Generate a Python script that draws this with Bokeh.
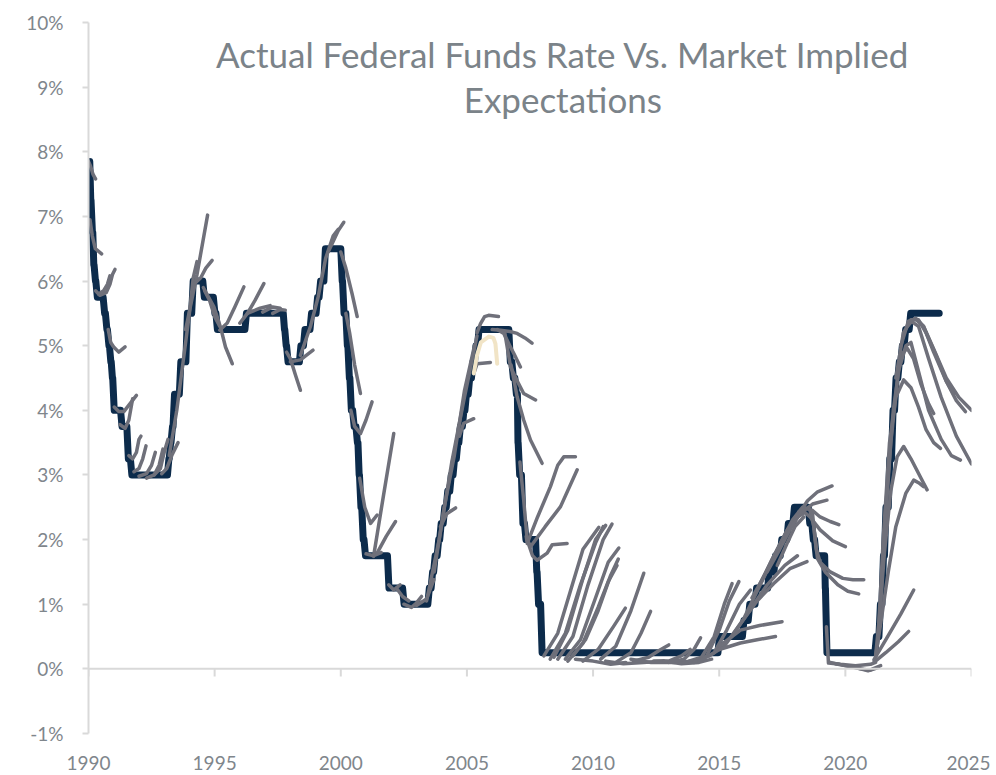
from bokeh.plotting import figure
from bokeh.models import ColumnDataSource, Label, Span, FixedTicker, Range1d
from bokeh.embed import file_html
from bokeh.resources import INLINE

# ---------------- data ----------------
year_ticks = [1990, 1995, 2000, 2005, 2010, 2015, 2020, 2025]
pct_ticks = [-1, 0, 1, 2, 3, 4, 5, 6, 7, 8, 9, 10]
title_lines = ["Actual Federal Funds Rate Vs. Market Implied", "Expectations"]

# actual federal funds rate: change dates (as plotted) and new level, %
fed_dates = [1990.00, 1990.05, 1990.10, 1990.17, 1990.22, 1990.29, 1990.58, 1990.67, 1990.75,
             1990.83, 1990.90, 1990.96, 1991.27, 1991.52, 1991.66, 1993.13, 1993.20, 1993.27,
             1993.35, 1993.60, 1993.86, 1994.09, 1994.53, 1994.95, 1995.05, 1996.20, 1997.72,
             1997.78, 1997.85, 1998.36, 1998.52, 1998.78, 1999.02, 1999.14, 1999.33, 2000.00,
             2000.07, 2000.20, 2000.28, 2000.36, 2000.47, 2000.60, 2000.68, 2000.74, 2000.83,
             2000.92, 2001.85, 2002.45, 2003.45, 2003.58, 2003.68, 2003.82, 2003.92, 2004.06,
             2004.18, 2004.32, 2004.45, 2004.58, 2004.68, 2004.82, 2004.92, 2005.05, 2005.18,
             2005.30, 2005.42, 2006.66, 2006.78, 2006.90, 2007.00, 2007.03, 2007.16, 2007.28,
             2007.72, 2007.78, 2007.92, 2014.95, 2015.92, 2016.15, 2016.42, 2016.92, 2017.17,
             2017.42, 2017.68, 2017.92, 2018.53, 2018.67, 2018.78, 2019.18, 2019.21, 2021.17,
             2021.33, 2021.45, 2021.55, 2021.70, 2021.83, 2021.95, 2022.08, 2022.20, 2022.33,
             2022.53, 2023.72]
fed_rates = [7.85, 7.25, 6.75, 6.25, 6.00, 5.75, 5.50, 5.25, 5.00,
             4.75, 4.50, 4.00, 3.75, 3.25, 3.00, 3.25, 3.50, 3.75,
             4.25, 4.75, 5.50, 6.00, 5.75, 5.50, 5.25, 5.50, 5.25,
             5.00, 4.75, 5.00, 5.25, 5.50, 5.75, 6.00, 6.50, 6.00,
             5.50, 5.00, 4.50, 4.00, 3.75, 3.50, 3.00, 2.50, 2.00,
             1.75, 1.25, 1.00, 1.25, 1.50, 1.75, 2.00, 2.25, 2.50,
             2.75, 3.00, 3.25, 3.50, 3.75, 4.00, 4.25, 4.50, 4.75,
             5.00, 5.25, 4.75, 4.50, 4.25, 3.50, 3.00, 2.25, 2.00,
             1.50, 1.00, 0.25, 0.50, 0.75, 1.00, 1.25, 1.50, 1.75,
             2.00, 2.25, 2.50, 2.25, 2.00, 1.75, 1.25, 0.25, 0.50,
             1.00, 1.75, 2.50, 3.25, 4.00, 4.50, 4.75, 5.00, 5.25,
             5.50, 5.50]

# market implied expectation paths: (year, rate %)
exp_1990s = [
    [(1990.00, 7.85), (1990.08, 7.78), (1990.18, 7.65), (1990.28, 7.58)],
    [(1990.06, 6.95), (1990.15, 6.70), (1990.27, 6.50), (1990.52, 6.42)],
    [(1990.28, 5.85), (1990.45, 5.78), (1990.70, 5.82), (1990.85, 5.95), (1990.95, 6.10), (1991.05, 6.18)],
    [(1990.40, 5.80), (1990.60, 5.85), (1990.75, 5.95), (1990.85, 6.08)],
    [(1990.78, 5.25), (1990.88, 5.05), (1991.00, 4.98), (1991.20, 4.90), (1991.45, 4.98)],
    [(1991.02, 4.05), (1991.20, 3.98), (1991.40, 3.98), (1991.60, 4.08), (1991.90, 4.23)],
    [(1991.25, 3.78), (1991.45, 3.72), (1991.60, 3.85), (1991.75, 4.18)],
    [(1991.60, 3.30), (1991.75, 3.25), (1991.90, 3.35), (1992.00, 3.55), (1992.08, 3.60)],
    [(1991.80, 3.05), (1992.00, 3.10), (1992.15, 3.25), (1992.28, 3.45)],
    [(1992.00, 2.98), (1992.30, 3.02), (1992.50, 3.15), (1992.65, 3.35)],
    [(1992.30, 2.95), (1992.60, 3.00), (1992.80, 3.15), (1992.95, 3.40)],
    [(1992.60, 3.00), (1992.85, 3.10), (1993.00, 3.35), (1993.15, 3.55)],
    [(1992.90, 3.02), (1993.10, 3.10), (1993.30, 3.30), (1993.55, 3.50)],
    [(1993.20, 3.30), (1993.50, 4.00), (1993.80, 4.90), (1994.00, 5.50), (1994.15, 6.05), (1994.30, 6.30)],
    [(1993.85, 5.25), (1994.30, 6.10), (1994.72, 7.02)],
    [(1994.20, 5.96), (1994.45, 6.05), (1994.65, 6.20), (1994.90, 6.32)],
    [(1994.55, 5.90), (1994.97, 5.60), (1995.23, 5.29), (1995.43, 4.98), (1995.70, 4.72)],
    [(1994.60, 5.85), (1994.80, 5.70), (1995.00, 5.45), (1995.20, 5.30)],
    [(1995.20, 5.24), (1995.50, 5.35), (1995.80, 5.60), (1996.16, 5.91)],
    [(1996.00, 5.35), (1996.30, 5.50), (1996.60, 5.70), (1996.95, 5.96)],
    [(1996.30, 5.50), (1996.80, 5.58), (1997.20, 5.62)],
    [(1996.90, 5.52), (1997.30, 5.60), (1997.60, 5.58)],
    [(1997.30, 5.50), (1997.60, 5.56), (1997.80, 5.55)],
    [(1997.85, 4.90), (1998.00, 4.80), (1998.20, 4.55), (1998.40, 4.31)],
    [(1998.00, 4.75), (1998.40, 4.78), (1998.90, 4.93)],
    [(1998.40, 4.85), (1998.80, 5.30), (1999.10, 5.75), (1999.40, 6.35), (1999.70, 6.70), (1999.90, 6.80)],
    [(1999.50, 6.45), (1999.66, 6.58), (1999.90, 6.78), (2000.12, 6.91)],
]

exp_2000s = [
    [(2000.00, 6.45), (2000.20, 6.20), (2000.45, 5.80), (2000.65, 5.45)],
    [(2000.20, 5.50), (2000.35, 5.20), (2000.55, 4.70), (2000.78, 4.26)],
    [(2000.40, 4.00), (2000.55, 3.75), (2000.78, 3.64), (2001.00, 3.85), (2001.24, 4.13)],
    [(2000.75, 2.95), (2000.95, 2.50), (2001.18, 2.25), (2001.44, 2.38)],
    [(2001.30, 1.74), (2001.70, 2.70), (2002.10, 3.64)],
    [(2001.44, 1.79), (2001.80, 2.05), (2002.17, 2.28)],
    [(2001.00, 1.78), (2001.30, 1.75), (2001.60, 1.80)],
    [(2001.90, 1.30), (2002.10, 1.22), (2002.35, 1.30)],
    [(2002.20, 1.25), (2002.45, 1.12), (2002.70, 1.05)],
    [(2002.50, 1.00), (2002.80, 0.95), (2003.00, 1.02), (2003.20, 1.12)],
    [(2003.00, 0.98), (2003.40, 1.08), (2003.69, 1.38)],
    [(2003.40, 1.05), (2003.90, 2.00), (2004.40, 3.20), (2004.90, 4.20), (2005.40, 5.15)],
    [(2003.70, 1.50), (2004.10, 2.50), (2004.50, 3.30), (2004.90, 4.30), (2005.30, 5.00)],
    [(2003.95, 2.20), (2004.20, 2.40), (2004.55, 2.49)],
    [(2004.70, 3.60), (2004.87, 3.80), (2005.27, 3.87)],
    [(2005.30, 4.60), (2005.40, 4.72), (2005.93, 4.74)],
    [(2005.40, 5.20), (2005.54, 5.34), (2005.70, 5.45), (2005.86, 5.47), (2006.25, 5.45)],
    [(2006.00, 5.25), (2006.33, 5.24), (2006.70, 5.22), (2006.99, 5.19), (2007.30, 5.12), (2007.58, 5.04)],
    [(2006.20, 5.25), (2006.46, 5.19), (2006.70, 5.00), (2006.86, 4.88), (2007.12, 4.67)],
    [(2006.50, 5.20), (2006.73, 4.67), (2007.00, 4.45), (2007.25, 4.26), (2007.72, 4.16)],
    [(2006.75, 4.70), (2006.99, 4.21), (2007.25, 3.85), (2007.52, 3.54), (2007.98, 3.18)],
    [(2007.10, 3.20), (2007.25, 2.61), (2007.39, 1.99), (2007.60, 1.75), (2007.78, 1.68),
     (2008.18, 1.79), (2008.38, 1.92), (2008.97, 1.94)],
    [(2007.35, 2.05), (2007.39, 1.94), (2007.80, 2.35), (2008.31, 2.82), (2008.60, 3.15),
     (2008.84, 3.28), (2009.30, 3.28)],
    [(2007.45, 1.95), (2007.52, 1.89), (2008.10, 2.20), (2008.71, 2.51), (2009.37, 3.08)],
]

exp_2010s = [
    [(2008.05, 0.20), (2008.60, 0.55), (2009.10, 1.20), (2009.60, 1.85), (2010.23, 2.19)],
    [(2008.30, 0.15), (2008.90, 0.55), (2009.50, 1.30), (2010.10, 1.95), (2010.40, 2.20)],
    [(2008.45, 0.18), (2009.00, 0.60), (2009.60, 1.40), (2010.10, 2.00), (2010.50, 2.22)],
    [(2008.60, 0.15), (2009.20, 0.50), (2009.80, 1.30), (2010.40, 2.00), (2010.75, 2.24)],
    [(2008.90, 0.15), (2009.50, 0.45), (2010.10, 1.10), (2010.60, 1.65), (2011.02, 1.87)],
    [(2009.00, 0.12), (2009.60, 0.40), (2010.20, 0.95), (2010.60, 1.35), (2010.95, 1.60)],
    [(2009.20, 0.20), (2009.70, 0.45), (2010.20, 0.90), (2010.70, 1.45), (2011.00, 1.70)],
    [(2009.60, 0.12), (2010.20, 0.30), (2010.80, 0.65), (2011.28, 0.94)],
    [(2010.30, 0.15), (2010.90, 0.35), (2011.50, 0.90), (2012.01, 1.48)],
    [(2010.90, 0.10), (2011.50, 0.25), (2011.90, 0.55), (2012.28, 0.89)],
    [(2011.60, 0.12), (2012.20, 0.18), (2012.60, 0.28), (2013.00, 0.37)],
    [(2012.40, 0.12), (2013.00, 0.12), (2013.50, 0.20), (2013.85, 0.30)],
    [(2009.30, 0.15), (2010.00, 0.12), (2010.70, 0.07), (2011.30, 0.10)],
    [(2010.50, 0.12), (2011.20, 0.08), (2012.00, 0.10), (2012.80, 0.12)],
    [(2011.50, 0.15), (2012.30, 0.10), (2013.20, 0.10), (2014.00, 0.12)],
    [(2012.80, 0.12), (2013.50, 0.08), (2014.20, 0.10), (2014.70, 0.15)],
    [(2013.00, 0.10), (2013.60, 0.15), (2014.00, 0.30), (2014.26, 0.48)],
    [(2013.80, 0.12), (2014.30, 0.18), (2014.80, 0.50), (2015.20, 1.00), (2015.51, 1.32)],
    [(2014.00, 0.10), (2014.50, 0.20), (2015.00, 0.60), (2015.40, 1.05), (2015.78, 1.35)],
    [(2014.20, 0.12), (2014.80, 0.25), (2015.30, 0.60), (2015.80, 1.00), (2016.24, 1.22)],
    [(2014.60, 0.20), (2015.20, 0.35), (2015.84, 0.70), (2016.50, 1.05), (2017.16, 1.32),
     (2017.80, 1.55), (2018.48, 1.66)],
    [(2015.00, 0.30), (2015.84, 0.40), (2016.50, 0.45), (2017.23, 0.50)],
    [(2015.00, 0.35), (2015.84, 0.60), (2016.60, 0.67), (2017.49, 0.73)],
    [(2015.50, 0.50), (2016.20, 0.90), (2016.90, 1.30), (2017.60, 1.60), (2018.10, 1.75)],
    [(2016.00, 0.80), (2016.50, 1.20), (2017.00, 1.60), (2017.50, 2.00), (2017.90, 2.30),
     (2018.30, 2.50), (2018.70, 2.45), (2019.00, 2.35), (2019.40, 2.28), (2019.74, 2.23)],
    [(2016.30, 1.10), (2016.80, 1.45), (2017.30, 1.85), (2017.70, 2.15), (2018.10, 2.35),
     (2018.40, 2.42), (2018.60, 2.35), (2019.00, 2.15), (2019.50, 1.98), (2020.00, 1.89)],
    [(2016.60, 1.30), (2017.10, 1.70), (2017.60, 2.05), (2018.00, 2.30), (2018.50, 2.60),
     (2018.90, 2.74), (2019.47, 2.83)],
    [(2016.90, 1.50), (2017.40, 1.85), (2017.80, 2.15), (2018.20, 2.40), (2018.70, 2.55), (2019.27, 2.61)],
    [(2017.30, 1.60), (2017.70, 1.95), (2018.00, 2.20), (2018.35, 2.35)],
    [(2018.60, 2.45), (2018.75, 2.20), (2018.85, 1.85), (2019.00, 1.65), (2019.40, 1.50),
     (2019.90, 1.40), (2020.30, 1.38), (2020.73, 1.38)],
    [(2018.70, 2.40), (2018.80, 2.00), (2018.90, 1.70), (2019.20, 1.50), (2019.70, 1.30),
     (2020.10, 1.20), (2020.53, 1.16)],
]

exp_2020s = [
    [(2019.25, 0.65), (2019.30, 0.30), (2019.33, 0.09), (2019.80, 0.07), (2020.40, 0.05),
     (2021.00, 0.07), (2021.20, 0.10)],
    [(2019.40, 0.10), (2020.00, 0.05), (2020.60, 0.00), (2021.00, -0.02), (2021.30, 0.02)],
    [(2019.60, 0.08), (2020.30, 0.03), (2020.90, -0.03), (2021.40, 0.05)],
    [(2021.13, 0.14), (2021.60, 0.45), (2022.20, 0.85), (2022.71, 1.22)],
    [(2021.13, 0.10), (2021.60, 0.25), (2022.10, 0.42), (2022.51, 0.58)],
    [(2021.20, 0.20), (2021.35, 0.80), (2021.55, 1.80), (2021.80, 2.75), (2022.05, 3.28),
     (2022.31, 3.44), (2022.60, 3.25), (2023.00, 2.95), (2023.24, 2.77)],
    [(2021.20, 0.20), (2021.40, 0.70), (2021.70, 1.50), (2022.00, 2.20), (2022.40, 2.72),
     (2022.71, 2.92), (2022.90, 2.88), (2023.10, 2.82)],
    [(2021.30, 0.50), (2021.50, 2.00), (2021.75, 3.50), (2022.00, 4.20), (2022.31, 4.47),
     (2022.60, 4.35), (2022.90, 4.05), (2023.20, 3.70), (2023.50, 3.50), (2023.77, 3.41)],
    [(2021.40, 1.00), (2021.60, 2.50), (2021.90, 4.00), (2022.20, 4.85), (2022.45, 4.96),
     (2022.70, 4.80), (2023.00, 4.40), (2023.30, 4.10), (2023.50, 3.95)],
    [(2021.50, 1.80), (2021.80, 3.50), (2022.10, 4.60), (2022.40, 5.00), (2022.60, 5.05),
     (2022.90, 4.60), (2023.30, 4.00), (2023.80, 3.55), (2024.20, 3.30), (2024.56, 3.23)],
    [(2022.00, 4.50), (2022.30, 5.20), (2022.60, 5.38), (2022.90, 5.30), (2023.30, 4.80),
     (2023.80, 4.20), (2024.40, 3.60), (2025.00, 3.17)],
    [(2022.20, 5.00), (2022.50, 5.38), (2022.80, 5.42), (2023.10, 5.30), (2023.50, 4.95),
     (2024.00, 4.50), (2024.50, 4.20), (2025.00, 4.00)],
    [(2022.45, 5.30), (2022.75, 5.42), (2023.10, 5.30), (2023.50, 4.90), (2024.00, 4.45),
     (2024.40, 4.15), (2024.76, 3.98)],
    [(2022.60, 5.40), (2022.90, 5.40), (2023.20, 5.20), (2023.60, 4.85), (2024.00, 4.45), (2024.30, 4.25)],
]

beige_path = [(2005.27, 4.57), (2005.40, 4.85), (2005.55, 5.05), (2005.87, 5.14),
              (2006.05, 5.12), (2006.13, 5.03), (2006.20, 4.72)]

# ---------------- styling ----------------
NAVY = "#0c2b4b"
GREY = "#6f707a"
AXIS = "#d9d9d9"
LABEL = "#7f868c"
FONT = "Lato"

p = figure(width=990, height=772, output_backend="svg", toolbar_location=None,
           x_range=Range1d(1990, 2025), y_range=Range1d(-1, 10),
           min_border_left=88, min_border_right=19, min_border_top=22, min_border_bottom=38)
p.outline_line_color = None
p.grid.visible = False
p.background_fill_color = "white"

p.yaxis.ticker = FixedTicker(ticks=pct_ticks)
p.yaxis.major_label_overrides = {t: f"{t}%" for t in pct_ticks}
p.yaxis.axis_line_color = AXIS
p.yaxis.axis_line_width = 2
p.yaxis.major_tick_line_color = AXIS
p.yaxis.major_tick_line_width = 2
p.yaxis.major_tick_out = 6
p.yaxis.major_tick_in = 0
p.yaxis.minor_tick_line_color = None
p.yaxis.major_label_text_color = LABEL
p.yaxis.major_label_text_font = FONT
p.yaxis.major_label_text_font_size = "19px"
p.yaxis.major_label_standoff = 19

p.xaxis.ticker = FixedTicker(ticks=year_ticks)
p.xaxis.axis_line_color = None
p.xaxis.major_tick_line_color = None
p.xaxis.minor_tick_line_color = None
p.xaxis.major_label_text_color = LABEL
p.xaxis.major_label_text_font = FONT
p.xaxis.major_label_text_font_size = "19px"
p.xaxis.major_label_standoff = 16

# zero line with its year ticks
p.add_layout(Span(location=0, dimension="width", line_color=AXIS, line_width=2))
p.segment(x0=year_ticks, y0=[0] * len(year_ticks), x1=year_ticks, y1=[-0.12] * len(year_ticks),
          line_color=AXIS, line_width=2)

# actual rate: each change drawn as a short monthly ramp, like a monthly line series
fx, fy = [fed_dates[0]], [fed_rates[0]]
for i in range(1, len(fed_dates)):
    d, r = fed_dates[i], fed_rates[i]
    gap = (fed_dates[i + 1] - d) if i + 1 < len(fed_dates) else 0.06
    ramp = min(0.06, 0.8 * gap)
    if r != fy[-1]:
        fx.append(d)
        fy.append(fy[-1])
        fx.append(d + ramp)
        fy.append(r)
    else:
        fx.append(d)
        fy.append(r)
p.line(x=fx, y=fy, line_color=NAVY, line_width=7, line_join="round", line_cap="round")

# expectations
all_paths = exp_1990s + exp_2000s + exp_2010s + exp_2020s
src = ColumnDataSource(dict(xs=[[pt[0] for pt in c] for c in all_paths],
                            ys=[[pt[1] for pt in c] for c in all_paths]))
p.multi_line(xs="xs", ys="ys", source=src, line_color=GREY, line_width=3.5,
             line_join="round", line_cap="round")

p.line(x=[pt[0] for pt in beige_path], y=[pt[1] for pt in beige_path],
       line_color="#f1e4c6", line_width=4, line_join="round", line_cap="round")

# title inside the plot
p.add_layout(Label(x=2008.8, y=9.52, text=title_lines[0], text_align="center",
                   text_baseline="middle", text_font=FONT, text_font_size="35px",
                   text_color="#7b8389"))
p.add_layout(Label(x=2008.8, y=8.82, text=title_lines[1], text_align="center",
                   text_baseline="middle", text_font=FONT, text_font_size="35px",
                   text_color="#7b8389"))

open("out.html", "w").write(file_html(p, INLINE))
